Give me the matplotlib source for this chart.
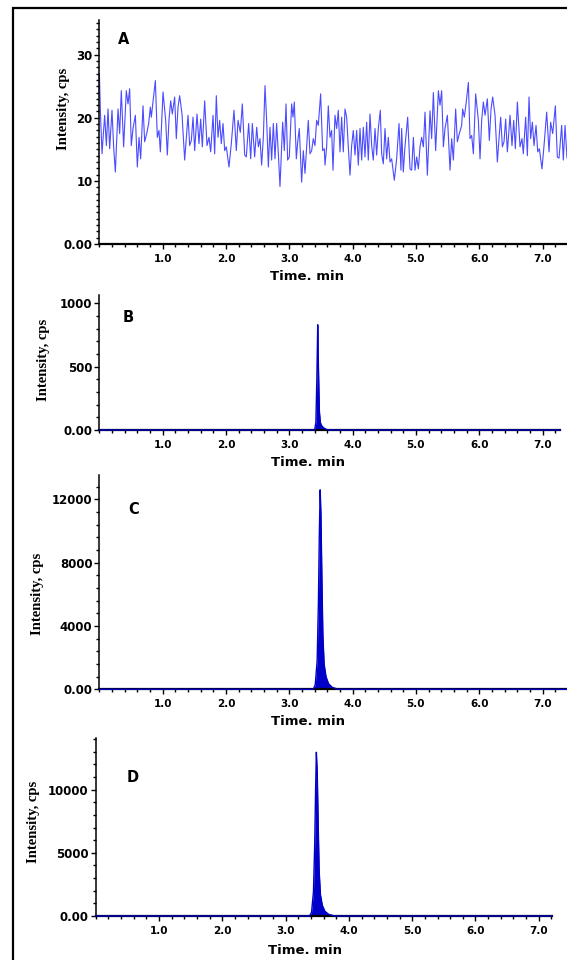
import matplotlib
matplotlib.use("Agg")
import matplotlib.pyplot as plt
from matplotlib.patches import Rectangle
from matplotlib.ticker import MultipleLocator

W, H = 567, 960
PX_PER_MIN = 63.3

# panel A - baseline noise, (time min, intensity cps)
noise_a = [
    (0.000, 27.0), (0.015, 21.2), (0.041, 14.3), (0.083, 20.4), (0.110, 15.6),
    (0.136, 21.4), (0.162, 15.1), (0.199, 21.2), (0.225, 15.4), (0.252, 11.4),
    (0.294, 21.4), (0.320, 17.5), (0.346, 24.3), (0.383, 15.4), (0.425, 24.3),
    (0.452, 22.2), (0.478, 24.6), (0.504, 15.6), (0.531, 18.3), (0.568, 20.4),
    (0.599, 12.2), (0.626, 16.9), (0.652, 13.5), (0.689, 21.9), (0.715, 16.2),
    (0.752, 17.7), (0.778, 19.1), (0.805, 21.7), (0.820, 20.1), (0.847, 22.5),
    (0.884, 25.9), (0.915, 16.9), (0.941, 18.0), (0.963, 14.6), (1.005, 24.1),
    (1.047, 19.6), (1.073, 14.1), (1.100, 19.8), (1.126, 22.7), (1.152, 20.6),
    (1.189, 23.3), (1.215, 16.7), (1.242, 21.7), (1.268, 23.5), (1.305, 20.6),
    (1.347, 13.3), (1.373, 16.9), (1.400, 20.4), (1.426, 15.6), (1.452, 16.4),
    (1.479, 20.1), (1.505, 14.8), (1.542, 20.6), (1.573, 15.9), (1.600, 19.8),
    (1.626, 15.4), (1.663, 22.7), (1.700, 15.6), (1.731, 16.9), (1.758, 14.6),
    (1.795, 20.4), (1.821, 14.3), (1.847, 23.5), (1.874, 16.9), (1.900, 19.6),
    (1.926, 15.9), (1.953, 19.1), (1.979, 14.8), (2.005, 15.4), (2.047, 12.2),
    (2.084, 15.9), (2.126, 21.2), (2.163, 14.8), (2.190, 19.6), (2.226, 17.7),
    (2.258, 22.2), (2.295, 14.1), (2.321, 13.8), (2.358, 19.1), (2.390, 13.5),
    (2.416, 19.1), (2.453, 13.8), (2.485, 18.5), (2.511, 15.4), (2.537, 16.7),
    (2.563, 12.5), (2.590, 16.9), (2.616, 25.1), (2.642, 19.6), (2.669, 12.2),
    (2.695, 18.5), (2.721, 13.3), (2.748, 19.1), (2.774, 13.5), (2.800, 19.1),
    (2.827, 14.3), (2.853, 9.1), (2.895, 19.3), (2.921, 14.8), (2.948, 22.2),
    (2.974, 13.3), (3.000, 13.8), (3.037, 22.2), (3.058, 20.1), (3.079, 22.5),
    (3.111, 13.5), (3.132, 16.1), (3.158, 18.3), (3.195, 9.8), (3.221, 14.8),
    (3.248, 11.2), (3.300, 19.6), (3.327, 14.3), (3.353, 14.8), (3.379, 16.7),
    (3.406, 15.6), (3.432, 19.6), (3.458, 18.8), (3.495, 23.8), (3.527, 14.8),
    (3.553, 15.1), (3.564, 12.5), (3.590, 15.4), (3.616, 21.9), (3.643, 16.9),
    (3.669, 18.0), (3.690, 11.7), (3.722, 20.4), (3.748, 18.3), (3.774, 21.2),
    (3.801, 14.6), (3.827, 20.1), (3.853, 14.6), (3.880, 21.4), (3.906, 20.1),
    (3.932, 15.4), (3.959, 10.9), (3.985, 15.6), (4.011, 18.0), (4.038, 14.1),
    (4.064, 18.0), (4.090, 12.5), (4.117, 18.3), (4.143, 13.3), (4.169, 18.5),
    (4.196, 13.8), (4.222, 19.3), (4.248, 13.3), (4.275, 20.6), (4.301, 15.6),
    (4.327, 13.3), (4.354, 18.3), (4.380, 14.1), (4.406, 18.3), (4.438, 21.2),
    (4.459, 14.3), (4.485, 12.7), (4.512, 18.3), (4.538, 13.5), (4.564, 16.9),
    (4.591, 13.0), (4.617, 13.5), (4.659, 10.1), (4.696, 13.5), (4.733, 19.1),
    (4.764, 11.7), (4.775, 18.3), (4.801, 11.4), (4.827, 15.4), (4.870, 20.1),
    (4.907, 11.9), (4.933, 11.7), (4.960, 16.9), (4.986, 11.7), (5.012, 13.8),
    (5.039, 11.9), (5.065, 15.4), (5.091, 16.9), (5.118, 15.4), (5.144, 20.9),
    (5.181, 10.9), (5.223, 21.1), (5.249, 16.7), (5.276, 24.0), (5.312, 14.8),
    (5.355, 24.3), (5.381, 22.0), (5.407, 24.3), (5.434, 15.4), (5.460, 18.3),
    (5.497, 20.4), (5.539, 11.7), (5.565, 16.7), (5.592, 13.3), (5.628, 21.4),
    (5.655, 16.2), (5.686, 17.5), (5.723, 18.8), (5.739, 21.4), (5.765, 20.1),
    (5.792, 22.2), (5.829, 25.6), (5.855, 16.7), (5.881, 17.2), (5.908, 14.3),
    (5.944, 23.8), (5.987, 19.6), (6.013, 13.5), (6.039, 19.6), (6.066, 22.5),
    (6.092, 20.4), (6.129, 23.0), (6.160, 16.4), (6.187, 21.4), (6.213, 23.3),
    (6.250, 20.4), (6.287, 13.0), (6.313, 16.7), (6.339, 20.1), (6.366, 15.4),
    (6.392, 16.2), (6.418, 19.8), (6.445, 14.6), (6.487, 20.4), (6.518, 15.6),
    (6.545, 19.6), (6.571, 15.1), (6.603, 22.5), (6.645, 15.4), (6.676, 16.7),
    (6.697, 14.3), (6.734, 20.1), (6.761, 14.0), (6.787, 23.3), (6.813, 16.7),
    (6.840, 19.3), (6.866, 15.6), (6.898, 18.8), (6.924, 14.6), (6.950, 15.1),
    (6.992, 11.9), (7.024, 15.6), (7.066, 20.9), (7.103, 14.6), (7.129, 19.3),
    (7.161, 17.5), (7.203, 21.9), (7.234, 13.8), (7.261, 13.6), (7.303, 18.8),
    (7.329, 13.3), (7.356, 18.8), (7.387, 13.6), (7.420, 17.0), (7.450, 14.5),
]

# panels B-D - chromatographic peaks
peak_b_time = [0.0, 3.400, 3.420, 3.435, 3.449, 3.460, 3.475, 3.490, 3.510, 3.540, 3.580, 3.620, 7.28]
peak_b_int = [0, 0, 60, 400, 830, 500, 150, 60, 35, 18, 6, 0, 0]

peak_c_time = [0.0, 3.380, 3.410, 3.440, 3.460, 3.475, 3.488, 3.500, 3.515, 3.530, 3.550, 3.580, 3.620, 3.680, 3.780, 7.45]
peak_c_int = [0, 0, 300, 1800, 5500, 10000, 12600, 11000, 7000, 3500, 1600, 800, 350, 120, 0, 0]

peak_d_time = [0.0, 3.380, 3.410, 3.440, 3.460, 3.475, 3.486, 3.500, 3.515, 3.530, 3.550, 3.580, 3.620, 3.680, 3.780, 7.21]
peak_d_int = [0, 0, 300, 1900, 5700, 10300, 12950, 11300, 7200, 3600, 1700, 850, 380, 130, 0, 0]

x_ticks = [1, 2, 3, 4, 5, 6, 7]
x_tick_labels = ["1.0", "2.0", "3.0", "4.0", "5.0", "6.0", "7.0"]

y_ticks_a = [0, 10, 20, 30]
y_labels_a = ["0.00", "10", "20", "30"]
y_ticks_b = [0, 500, 1000]
y_labels_b = ["0.00", "500", "1000"]
y_ticks_c = [0, 4000, 8000, 12000]
y_labels_c = ["0.00", "4000", "8000", "12000"]
y_ticks_d = [0, 5000, 10000]
y_labels_d = ["0.00", "5000", "10000"]

plt.rcParams["font.family"] = ["DejaVu Sans"]

fig = plt.figure(figsize=(W / 100, H / 100), dpi=100)

# outer frame (cut by the image on right and bottom)
fig.patches.append(Rectangle((12.5 / W, -0.1), 1.2, 1.1 - 8.5 / H,
                             transform=fig.transFigure, fill=False,
                             edgecolor="black", lw=1.6))


def make_panel(left, top, bottom, xmax, ymax, yticks, ylabels, yminor):
    right = left + xmax * PX_PER_MIN
    ax = fig.add_axes([left / W, 1 - bottom / H, (right - left) / W, (bottom - top) / H])
    ax.patch.set_alpha(0)
    ax.set_xlim(0, xmax)
    ax.set_ylim(0, ymax)
    for s in ["top", "right"]:
        ax.spines[s].set_visible(False)
    ax.spines["left"].set_linewidth(1.1)
    ax.spines["bottom"].set_linewidth(1.6)
    ax.set_xticks(x_ticks)
    ax.set_xticklabels(x_tick_labels, fontsize=7.5, fontweight="bold")
    ax.xaxis.set_minor_locator(MultipleLocator(0.2))
    ax.set_yticks(yticks)
    ax.set_yticklabels(ylabels, fontsize=8.5, fontweight="bold")
    ax.yaxis.set_minor_locator(MultipleLocator(yminor))
    ax.tick_params(axis="both", which="major", direction="out", length=3.5, width=1.0, color="black")
    ax.tick_params(axis="both", which="minor", direction="out", length=2.0, width=1.0, color="black")
    ax.tick_params(axis="x", pad=3.5)
    ax.tick_params(axis="y", pad=1.5)
    return ax


def fig_text(x, y, s, **kw):
    fig.text(x / W, 1 - y / H, s, ha="center", va="center", **kw)


ylab_kw = dict(family="Liberation Serif", fontweight="bold", fontsize=10.5, rotation=90)
xlab_kw = dict(fontweight="bold", fontsize=9.5)
tag_kw = dict(fontweight="bold", fontsize=10.5)

# A
ax_a = make_panel(99.4, 20, 244, 7.45, 35.5, y_ticks_a, y_labels_a, 1)
ta, va = zip(*noise_a)
ax_a.plot(ta, va, color="#4b4bff", lw=0.8)
fig_text(63, 109, "Intensity, cps", **ylab_kw)
fig_text(307, 277, "Time. min", **xlab_kw)
fig_text(124, 40, "A", **tag_kw)

# B
ax_b = make_panel(99.4, 295, 430, 7.28, 1065, y_ticks_b, y_labels_b, 100)
ax_b.fill_between(peak_b_time, peak_b_int, color="#0000c8", lw=0)
ax_b.plot(peak_b_time, peak_b_int, color="#0000c8", lw=1.0, zorder=3, clip_on=False)
fig_text(44, 360, "Intensity, cps", **ylab_kw)
fig_text(308, 463, "Time. min", **xlab_kw)
fig_text(128, 317, "B", **tag_kw)

# C
ax_c = make_panel(99.4, 475, 689.3, 7.45, 13540, y_ticks_c, y_labels_c, 800)
ax_c.fill_between(peak_c_time, peak_c_int, color="#0000c8", lw=0)
ax_c.plot(peak_c_time, peak_c_int, color="#0000c8", lw=1.0, zorder=3, clip_on=False)
fig_text(37.5, 594, "Intensity, cps", **ylab_kw)
fig_text(308, 721.5, "Time. min", **xlab_kw)
fig_text(134, 510, "C", **tag_kw)

# D
ax_d = make_panel(95.7, 738, 916, 7.21, 14080, y_ticks_d, y_labels_d, 1000)
ax_d.fill_between(peak_d_time, peak_d_int, color="#0000c8", lw=0)
ax_d.plot(peak_d_time, peak_d_int, color="#0000c8", lw=1.0, zorder=3, clip_on=False)
fig_text(33, 822, "Intensity, cps", **ylab_kw)
fig_text(304.5, 950, "Time. min", **xlab_kw)
fig_text(133, 778, "D", **tag_kw)

fig.savefig("out.png", dpi=100)
